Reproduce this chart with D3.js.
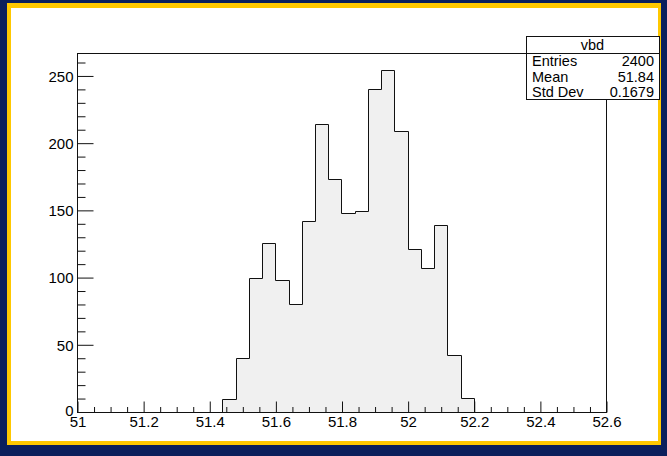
<!DOCTYPE html>
<html><head><meta charset="utf-8">
<script src="https://cdn.jsdelivr.net/npm/d3@7"></script>
<style>
html,body{margin:0;padding:0;background:#fff;}
svg{display:block;}
text{font-family:"Liberation Sans",Arial,Helvetica,sans-serif;fill:#000;}
</style></head>
<body>
<svg id="c" width="667" height="456"></svg>
<script>
// ---- data ----
const binLow = [51.44,51.48,51.52,51.56,51.60,51.64,51.68,51.72,51.76,51.80,51.84,51.88,51.92,51.96,52.00,52.04,52.08,52.12,52.16];
const binWidth = 0.04;
const counts = [9,40,99,125,98,80,142,214,173,148,149,240,254,209,121,107,139,42,10];
const xTickLabels = ["51","51.2","51.4","51.6","51.8","52","52.2","52.4","52.6"];
const xMajor = [51,51.2,51.4,51.6,51.8,52,52.2,52.4,52.6];
const yMajor = [0,50,100,150,200,250];
const statsTitle = "vbd";
const statsNames = ["Entries","Mean","Std Dev"];
const statsValues = ["2400","51.84","0.1679"];

const W = 667, H = 456;
const svg = d3.select("#c");

// canvas border
svg.append("rect").attr("x",0).attr("y",0).attr("width",W).attr("height",H).attr("fill","#0b1f5c");
svg.append("rect").attr("x",7).attr("y",3).attr("width",W-7-6).attr("height",H-3-11).attr("fill","#ffc800");
svg.append("rect").attr("x",11).attr("y",8).attr("width",W-11-9).attr("height",H-8-15).attr("fill","#fff");

const fx0 = 77, fx1 = 606, fy0 = 53, fy1 = 411.5;
const xMin = 51, xMax = 52.6;
const yMax = d3.max(counts) * 1.05;
const x = d3.scaleLinear().domain([xMin, xMax]).range([fx0, fx1]);
const y = d3.scaleLinear().domain([0, yMax]).range([fy1, fy0]);

// histogram
const pts = [];
binLow.forEach((lo,i)=>{
  pts.push([x(lo), y(counts[i])]);
  pts.push([x(lo+binWidth), y(counts[i])]);
});
const first = [x(binLow[0]), y(0)];
const last = [x(binLow[binLow.length-1]+binWidth), y(0)];
const all = [first, ...pts, last];
const snap = v => Math.round(v) + 0.5;
const line = d3.line().x(d=>snap(d[0])).y(d=>snap(d[1]));
svg.append("path").attr("d", line(all) + "Z").attr("fill","#f0f0f0").attr("stroke","none");
svg.append("path").attr("d", line(all)).attr("fill","none").attr("stroke","#111").attr("stroke-width",1);

// frame
svg.append("rect").attr("x",snap(fx0)).attr("y",snap(fy0)).attr("width",Math.round(fx1)-Math.round(fx0)).attr("height",Math.round(fy1)-Math.round(fy0))
  .attr("fill","none").attr("stroke","#111").attr("stroke-width",1);

// x axis
const xMinor = d3.range(0, 33).map(i => +(xMin + i*0.05).toFixed(2)).filter(v => !xMajor.some(m => Math.abs(m-v)<1e-6));
const gx = svg.append("g").attr("transform",`translate(0.5,${snap(fy1)})`);
gx.call(d3.axisBottom(x).tickValues(xMinor).tickSize(-5.5).tickSizeOuter(0).tickFormat(""));
gx.call(g=>g.select(".domain").remove());
const gx2 = svg.append("g").attr("transform",`translate(0.5,${snap(fy1)})`);
gx2.call(d3.axisBottom(x).tickValues(xMajor).tickSize(-11).tickSizeOuter(0).tickPadding(4)
  .tickFormat((d,i)=>xTickLabels[i]));
gx2.select(".domain").remove();
gx2.selectAll("text").attr("font-size",15).attr("fill","#000").attr("dy","0.7em");

// y axis
const yMinor = d3.range(0, 27).map(i=>i*10).filter(v=>v%50!==0 && v<=yMax);
const gy = svg.append("g").attr("transform",`translate(${snap(fx0)},0.5)`);
gy.call(d3.axisLeft(y).tickValues(yMinor).tickSize(-8).tickSizeOuter(0).tickFormat(""));
gy.select(".domain").remove();
const gy2 = svg.append("g").attr("transform",`translate(${snap(fx0)},0.5)`);
gy2.call(d3.axisLeft(y).tickValues(yMajor).tickSize(-16).tickSizeOuter(0).tickPadding(4).tickFormat(d3.format("d")));
gy2.select(".domain").remove();
gy2.selectAll("text").attr("font-size",15).attr("fill","#000").attr("dy","0.36em");
gy2.selectAll(".tick").filter(d=>d===0).select("text").attr("dy","0.2em");
svg.selectAll(".tick line").attr("stroke","#111");

// stats box
const bx0 = 526, bx1 = 659, by0 = 36, bySep = 53, by1 = 99;
const sb = svg.append("g");
sb.append("rect").attr("x",bx0+0.5).attr("y",by0+0.5).attr("width",bx1-bx0).attr("height",by1-by0)
  .attr("fill","#fff").attr("stroke","#111");
sb.append("line").attr("x1",bx0).attr("x2",bx1).attr("y1",bySep+0.5).attr("y2",bySep+0.5).attr("stroke","#111");
sb.append("text").attr("x",(bx0+bx1)/2).attr("y",(by0+bySep)/2+0.5).attr("dy","0.36em").attr("text-anchor","middle")
  .attr("font-size",14.5).text(statsTitle);
const rowH = (by1 - bySep)/statsNames.length;
statsNames.forEach((n,i)=>{
  const cy = bySep + rowH*(i+0.5) + 0.5;
  sb.append("text").attr("x",bx0+6).attr("y",cy).attr("dy","0.36em").attr("font-size",14.5).text(n);
  sb.append("text").attr("x",bx1-5).attr("y",cy).attr("dy","0.36em").attr("text-anchor","end").attr("font-size",14.5).text(statsValues[i]);
});
</script>
</body></html>
